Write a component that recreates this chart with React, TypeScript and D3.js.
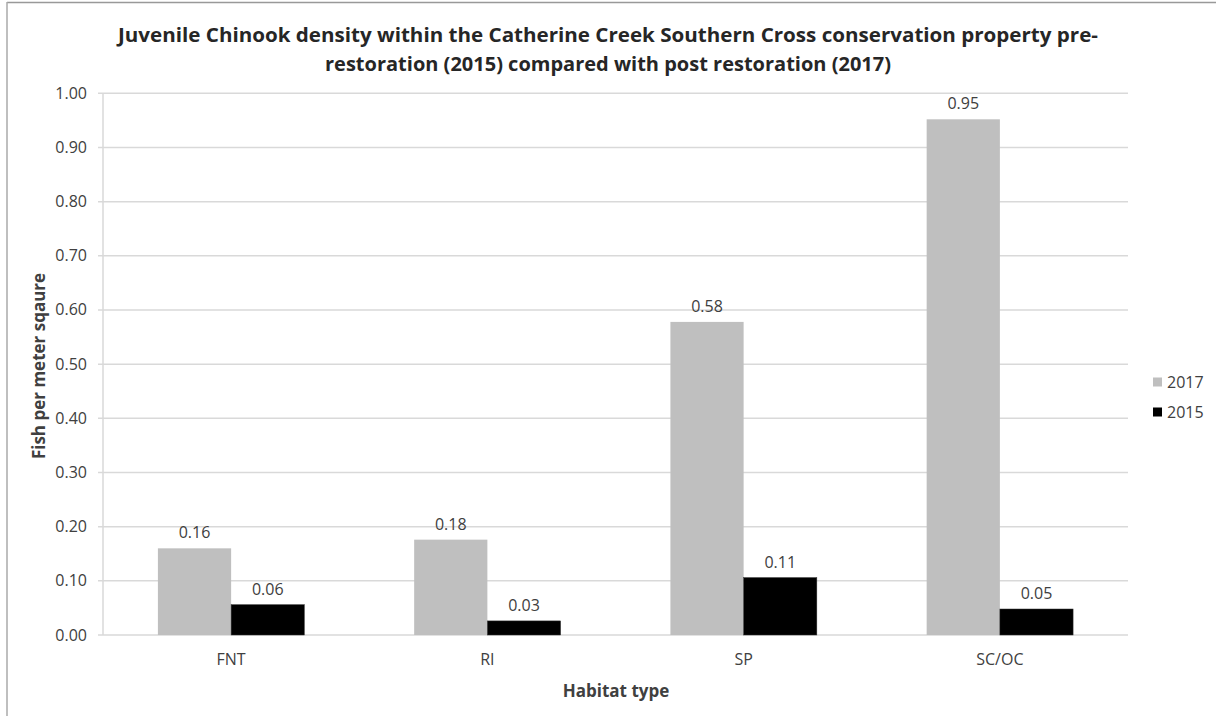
import React from "react";
import * as d3 from "d3";

const categories = ["FNT", "RI", "SP", "SC/OC"];
const series2017 = [0.16, 0.176, 0.578, 0.952];
const series2015 = [0.056, 0.026, 0.106, 0.048];
const seriesNames = ["2017", "2015"];
const yTicks = [0, 0.1, 0.2, 0.3, 0.4, 0.5, 0.6, 0.7, 0.8, 0.9, 1.0];
const titleLines = [
  "Juvenile Chinook density within the Catherine Creek Southern Cross conservation property pre-",
  "restoration (2015) compared with post restoration (2017)",
];
const xTitle = "Habitat type";
const yTitle = "Fish per meter sqaure";

const W = 1216;
const H = 716;
const FONT = "'Open Sans', 'Noto Sans', sans-serif";
const TXT = "#404040";

export default function App() {
  const left = 103;
  const right = 1128;
  const top = 93.3;
  const bottom = 635;

  const x = d3.scaleBand<string>().domain(categories).range([left, right]).paddingInner(0).paddingOuter(0);
  const inner = d3
    .scaleBand<string>()
    .domain(seriesNames)
    .range([0, x.bandwidth()])
    .paddingInner(0)
    .paddingOuter(0.75);
  const y = d3.scaleLinear().domain([0, 1]).range([bottom, top]);
  const fmt = d3.format(".2f");
  const colors = ["#BFBFBF", "#000000"];
  const data = [series2017, series2015];

  return (
    <svg
      width={W}
      height={H}
      style={{ position: "absolute", left: 0, top: 0, background: "#fff" }}
      fontFamily={FONT}
    >
      <rect x={0} y={0} width={W} height={H} fill="#fff" />
      {/* chart frame */}
      <line x1={7} x2={W} y1={2.5} y2={2.5} stroke="#999" strokeWidth={1.5} />
      <line x1={7} x2={7} y1={2} y2={H} stroke="#aaa" strokeWidth={1.5} />

      {/* title */}
      {titleLines.map((t, i) => (
        <text
          key={i}
          x={608}
          y={42 + i * 29}
          textAnchor="middle"
          fontSize={20}
          fontWeight="bold"
          fill="#262626"
          textLength={i === 0 ? 980 : 566}
          lengthAdjust="spacingAndGlyphs"
        >
          {t}
        </text>
      ))}

      {/* gridlines & y ticks */}
      {yTicks.map((v) => (
        <g key={v}>
          <line x1={98} x2={right} y1={y(v)} y2={y(v)} stroke="#D9D9D9" strokeWidth={1.5} />
          <text x={87} y={y(v) + 5.5} textAnchor="end" fontSize={16} fill={TXT}>
            {fmt(v)}
          </text>
        </g>
      ))}
      <line x1={left} x2={left} y1={top} y2={bottom} stroke="#D9D9D9" strokeWidth={1.5} />

      {/* bars */}
      {categories.map((c, ci) => (
        <g key={c} transform={`translate(${x(c)},0)`}>
          {seriesNames.map((s, si) => {
            const v = data[si][ci];
            const bx = inner(s)!;
            const bw = inner.bandwidth();
            return (
              <g key={s}>
                <rect
                  x={bx}
                  y={y(v)}
                  width={bw}
                  height={bottom - y(v)}
                  fill={colors[si]}
                  stroke={si === 1 ? "#333" : "none"}
                  strokeWidth={0.5}
                />
                <text x={bx + bw / 2} y={y(v) - 10} textAnchor="middle" fontSize={16} fill={TXT}>
                  {fmt(v)}
                </text>
              </g>
            );
          })}
          <text x={x.bandwidth() / 2} y={665} textAnchor="middle" fontSize={16} fill={TXT}>
            {c}
          </text>
        </g>
      ))}

      {/* axis titles */}
      <text x={616} y={697} textAnchor="middle" fontSize={17} fontWeight="bold" fill={TXT}>
        {xTitle}
      </text>
      <text
        transform={`translate(45,366) rotate(-90)`}
        textAnchor="middle"
        fontSize={17}
        fontWeight="bold"
        fill={TXT}
      >
        {yTitle}
      </text>

      {/* legend */}
      {seriesNames.map((s, i) => (
        <g key={s} transform={`translate(1153,${382 + i * 30})`}>
          <rect x={0} y={-4.5} width={9} height={9} fill={colors[i]} />
          <text x={14} y={5.5} fontSize={16} fill={TXT}>
            {s}
          </text>
        </g>
      ))}
    </svg>
  );
}
